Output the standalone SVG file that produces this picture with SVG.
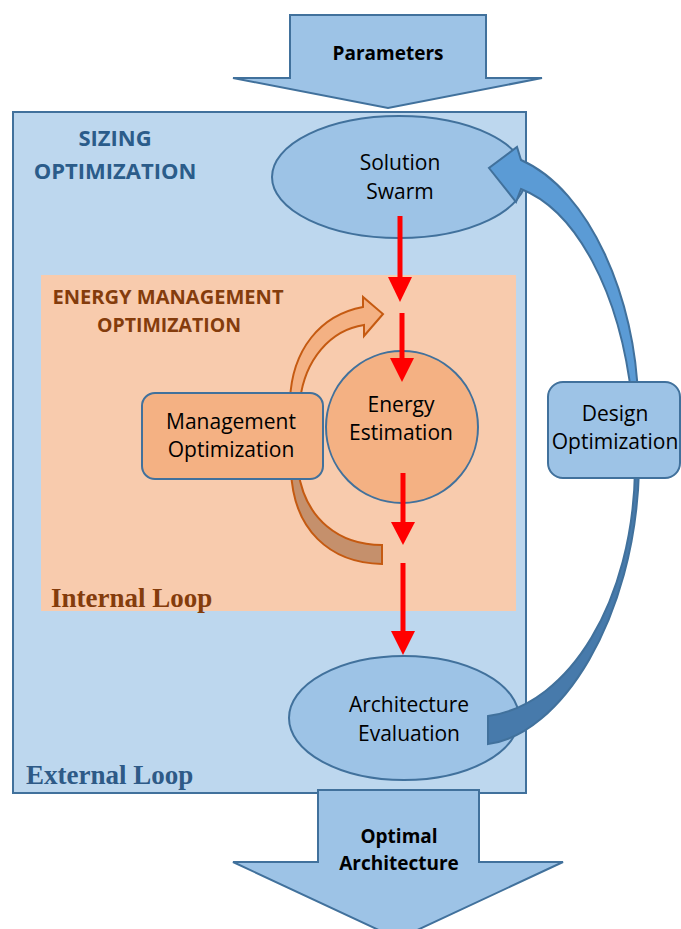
<svg xmlns="http://www.w3.org/2000/svg" width="681" height="929" viewBox="0 0 681 929">
<style>
.node{font-family:"Open Sans","Liberation Sans",sans-serif;font-size:21px;fill:#000;text-anchor:middle}
.bold{font-family:"Open Sans","Liberation Sans",sans-serif;font-weight:bold;text-anchor:middle}
.serif{font-family:"Liberation Serif","Times New Roman",serif;font-weight:bold;font-size:27px}
.blue{fill:#9DC3E6;stroke:#41719C;stroke-width:2}
.orange{fill:#F4B183;stroke:#41719C;stroke-width:2}
.red{stroke:#FF0000;stroke-width:5;fill:none}
.redhead{fill:#FF0000}
</style>
<rect width="681" height="929" fill="#FFFFFF"/>

<g id="external-loop">
<rect x="13" y="112" width="513" height="681" fill="#BDD7EE" stroke="#41719C" stroke-width="2"/>
<text class="bold" x="115" y="146" font-size="22" fill="#2B5C8A">SIZING</text>
<text class="bold" x="115" y="179" font-size="22" fill="#2B5C8A">OPTIMIZATION</text>
<text class="serif" x="26" y="784" fill="#2E5A87">External Loop</text>
</g>

<g id="internal-loop">
<rect x="41" y="275" width="475" height="336" fill="#F8CBAD"/>
<text class="bold" x="168" y="304" font-size="19" fill="#843C0C" textLength="231" lengthAdjust="spacingAndGlyphs">ENERGY MANAGEMENT</text>
<text class="bold" x="169" y="332" font-size="19" fill="#843C0C" textLength="144" lengthAdjust="spacingAndGlyphs">OPTIMIZATION</text>
<text class="serif" x="51" y="607" fill="#843C0C">Internal Loop</text>
</g>

<g id="parameters">
<polygon class="blue" points="290,15 486,15 486,78 542,78 388,108 233,78 290,78"/>
<text class="bold" x="388" y="60" font-size="19">Parameters</text>
</g>

<g id="optimal-architecture">
<polygon class="blue" points="318,790 479,790 479,862 563,862 398,939 233,862 318,862"/>
<text class="bold" x="399" y="843" font-size="19">Optimal</text>
<text class="bold" x="399" y="870" font-size="19">Architecture</text>
</g>

<g id="solution-swarm">
<ellipse class="blue" cx="399" cy="177" rx="127" ry="61"/>
<text class="node" x="400" y="170">Solution</text>
<text class="node" x="400" y="199">Swarm</text>
</g>

<g id="energy-estimation">
<circle class="orange" cx="402" cy="427" r="76"/>
<text class="node" x="401" y="412">Energy</text>
<text class="node" x="401" y="440">Estimation</text>
</g>

<g id="architecture-evaluation">
<ellipse class="blue" cx="404" cy="718" rx="115" ry="62"/>
<text class="node" x="409" y="712">Architecture</text>
<text class="node" x="409" y="741">Evaluation</text>
</g>

<g id="connectors">
<path d="M290,400 C292,350 320,315 363,307 L363,297 L383,314 L364,336 L364,325 C330,330 305,360 300,400 Z" fill="#F4B183" stroke="#C55A11" stroke-width="2"/>
<path d="M291,470 C293,530 330,563 382,564 L382,545 C340,545 305,520 298,470 Z" fill="#C5906C" stroke="#C55A11" stroke-width="2"/>
<path d="M639,430 L639,470 C635,620 560,735 488,744 L488,716 C570,705 633,600 635,470 L634,430 Z" fill="#477AAB" stroke="#41719C" stroke-width="2"/>
<path d="M638,430 L638,400 C636,300 590,190 521,160 L517,147 L489,168 L516,202 L521,189 C575,210 620,290 632,400 L633,430 Z" fill="#5B9BD5" stroke="#41719C" stroke-width="2"/>
<line class="red" x1="400" y1="216" x2="400" y2="280"/>
<polygon class="redhead" points="388,277 412,277 400,302"/>
<line class="red" x1="402" y1="313" x2="402" y2="360"/>
<polygon class="redhead" points="390,358 414,358 402,382"/>
<line class="red" x1="403" y1="473" x2="403" y2="524"/>
<polygon class="redhead" points="391,522 415,522 403,545"/>
<line class="red" x1="403" y1="563" x2="403" y2="633"/>
<polygon class="redhead" points="391,631 415,631 403,655"/>
</g>

<g id="management-optimization">
<rect class="orange" x="142" y="393" width="181" height="86" rx="13"/>
<text class="node" x="231" y="429">Management</text>
<text class="node" x="231" y="457">Optimization</text>
</g>

<g id="design-optimization">
<rect class="blue" x="548" y="382" width="132" height="96" rx="15"/>
<text class="node" x="615" y="421">Design</text>
<text class="node" x="615" y="449">Optimization</text>
</g>
</svg>
